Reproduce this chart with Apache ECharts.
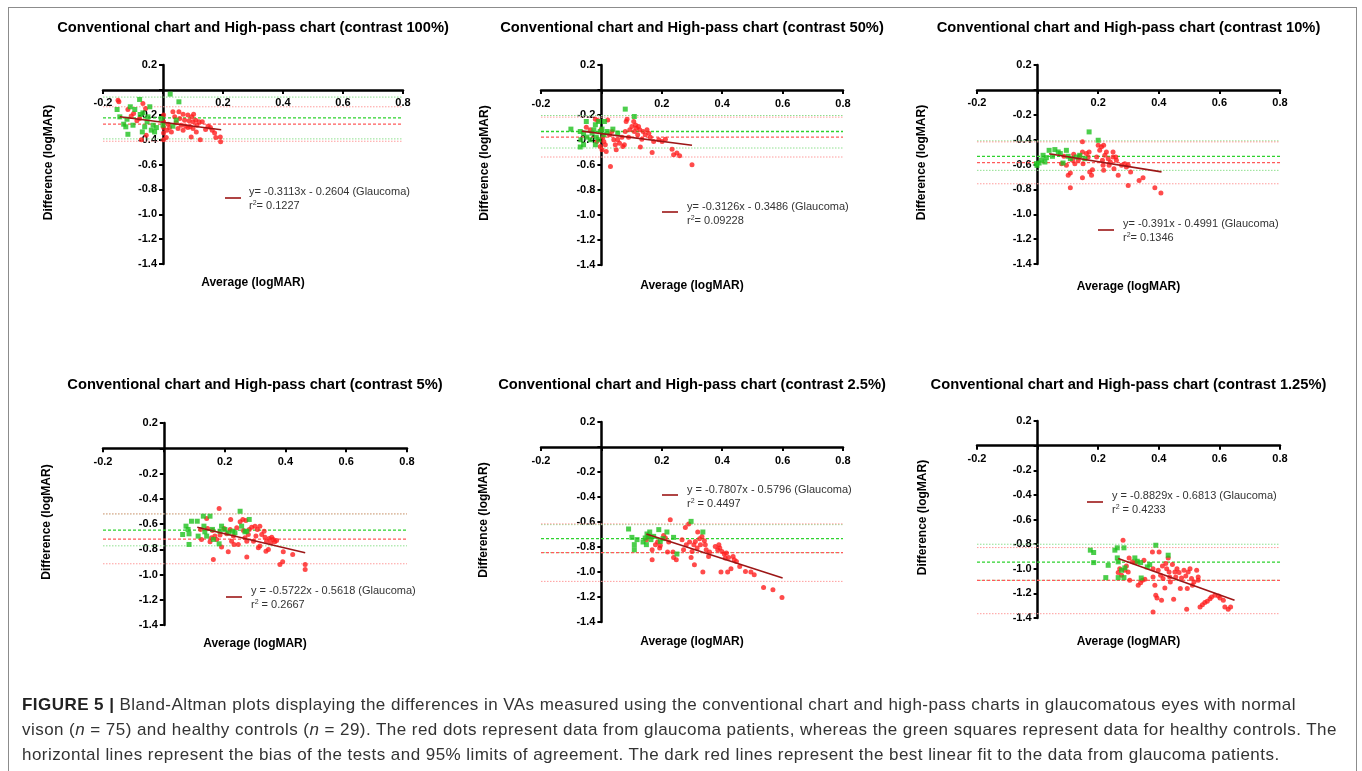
<!DOCTYPE html>
<html>
<head>
<meta charset="utf-8">
<script src="https://cdn.jsdelivr.net/npm/echarts@6/dist/echarts.min.js"></script>
<style>
body { margin: 0; background: #fff; }
#frame { position: absolute; left: 8px; top: 7px; width: 1347px; height: 800px; border: 1px solid #8c8c8c; }
#chart { position: absolute; left: 0; top: 0; width: 1362px; height: 771px; }
#caption { position: absolute; left: 22px; top: 692px; font-family: 'Liberation Sans', Arial, sans-serif;
  font-size: 17px; letter-spacing: 0.45px; line-height: 25px; color: #333; white-space: nowrap; }
#caption b { color: #222; }
</style>
</head>
<body>
<div id="frame"></div>
<div id="chart"></div>
<div id="caption"><b>FIGURE 5 |</b> Bland-Altman plots displaying the differences in VAs measured using the conventional chart and high-pass charts in glaucomatous eyes with normal<br>vison (<i>n</i> = 75) and healthy controls (<i>n</i> = 29). The red dots represent data from glaucoma patients, whereas the green squares represent data for healthy controls. The<br>horizontal lines represent the bias of the tests and 95% limits of agreement. The dark red lines represent the best linear fit to the data from glaucoma patients.</div>
<script>
var panelTitles = [
    'Conventional chart and High-pass chart (contrast 100%)',
    'Conventional chart and High-pass chart (contrast 50%)',
    'Conventional chart and High-pass chart (contrast 10%)',
    'Conventional chart and High-pass chart (contrast 5%)',
    'Conventional chart and High-pass chart (contrast 2.5%)',
    'Conventional chart and High-pass chart (contrast 1.25%)'
];
var eqLabels = [
    'y= -0.3113x - 0.2604 (Glaucoma)',
    'y= -0.3126x - 0.3486 (Glaucoma)',
    'y= -0.391x - 0.4991 (Glaucoma)',
    'y = -0.5722x - 0.5618 (Glaucoma)',
    'y = -0.7807x - 0.5796 (Glaucoma)',
    'y = -0.8829x - 0.6813 (Glaucoma)'
];
var r2Labels = ['= 0.1227', '= 0.09228', '= 0.1346', ' = 0.2667', ' = 0.4497', ' = 0.4233'];
var xName = 'Average (logMAR)';
var yName = 'Difference (logMAR)';
var xMin = -0.2, xMax = 0.8, yMin = -1.4, yMax = 0.2, step = 0.2;

// glaucoma (red dots) and controls (green squares): [average, difference]
var red100 = [[-0.147,-0.096],[-0.117,-0.158],[-0.106,-0.211],[-0.087,-0.249],[-0.098,-0.19],[-0.078,-0.23],[-0.067,-0.109],[-0.058,-0.15],[-0.15,-0.083],[-0.072,-0.4],[-0.056,-0.365],
    [0.002,-0.203],[0.002,-0.257],[0.002,-0.303],[0.002,-0.346],[0.002,-0.4],[0.011,-0.383],[0.013,-0.324],[0.017,-0.276],[0.022,-0.303],
    [0.033,-0.176],[0.039,-0.217],[0.044,-0.265],[0.053,-0.176],[0.056,-0.23],[0.061,-0.284],[0.067,-0.195],[0.072,-0.244],[0.076,-0.292],[0.083,-0.203],[0.087,-0.249],[0.091,-0.297],[0.096,-0.217],[0.1,-0.257],[0.102,-0.195],[0.109,-0.244],[0.113,-0.284],[0.12,-0.257],[0.131,-0.257],[0.094,-0.378],[0.111,-0.338],[0.124,-0.4],[0.142,-0.319],[0.15,-0.292],[0.158,-0.303],[0.164,-0.324],[0.172,-0.346],[0.176,-0.383],[0.191,-0.378],[0.192,-0.418],[0.028,-0.338],[0.05,-0.311],[0.067,-0.324],[0.083,-0.303],[0.1,-0.311]];
var green100 = [[-0.153,-0.158],[-0.144,-0.217],[-0.12,-0.236],[-0.109,-0.136],[-0.094,-0.158],[-0.078,-0.077],[-0.076,-0.198],[-0.067,-0.185],[-0.124,-0.297],[-0.117,-0.357],[-0.069,-0.338],[-0.053,-0.257],[-0.05,-0.217],[-0.044,-0.136],[-0.033,-0.284],[-0.028,-0.338],[-0.039,-0.324],[-0.006,-0.23],[0,-0.284],[0.024,-0.034],[0.053,-0.096],[0.033,-0.292],[0.044,-0.244],[-0.131,-0.276],[-0.061,-0.297],[-0.022,-0.303],[-0.1,-0.284]];

var red50 = [[-0.05,-0.297],[-0.037,-0.318],[-0.02,-0.233],[-0.012,-0.244],[-0.001,-0.318],[0.005,-0.377],[0.008,-0.411],[0.013,-0.438],[0.016,-0.491],[0.021,-0.239],[0.027,-0.358],[0.03,-0.611],[0.035,-0.332],[0.041,-0.398],[0.046,-0.438],[0.049,-0.478],[0.054,-0.398],[0.06,-0.425],[0.068,-0.377],[0.071,-0.451],[0.076,-0.438],[0.079,-0.332],[0.082,-0.252],[0.085,-0.233],[0.09,-0.377],[0.094,-0.318],[0.101,-0.292],[0.107,-0.252],[0.109,-0.332],[0.113,-0.279],[0.116,-0.305],[0.12,-0.358],[0.123,-0.292],[0.127,-0.318],[0.129,-0.456],[0.134,-0.393],[0.138,-0.332],[0.145,-0.358],[0.151,-0.318],[0.157,-0.345],[0.162,-0.377],[0.168,-0.499],[0.173,-0.411],[0.19,-0.398],[0.201,-0.411],[0.212,-0.393],[0.234,-0.473],[0.239,-0.518],[0.25,-0.504],[0.259,-0.526],[0.3,-0.597],[-0.004,-0.451],[0.002,-0.478],[-0.015,-0.411]];
var green50 = [[-0.101,-0.313],[-0.07,-0.332],[-0.068,-0.398],[-0.07,-0.456],[-0.059,-0.438],[-0.05,-0.252],[-0.048,-0.377],[-0.02,-0.278],[-0.017,-0.377],[-0.009,-0.252],[-0.004,-0.332],[0.002,-0.313],[0.008,-0.358],[0.01,-0.252],[0.038,-0.313],[0.054,-0.345],[0.079,-0.153],[0.109,-0.212],[-0.02,-0.438],[-0.031,-0.345],[-0.059,-0.345],[-0.009,-0.398],[0.019,-0.332],[-0.025,-0.318],[-0.037,-0.398]];

var red10 = [[0.079,-0.593],[0.087,-0.534],[0.095,-0.607],[0.101,-0.687],[0.108,-0.668],[0.108,-0.787],[0.115,-0.566],[0.119,-0.518],[0.123,-0.593],[0.134,-0.566],[0.148,-0.418],[0.148,-0.499],[0.15,-0.593],[0.148,-0.706],[0.161,-0.512],[0.167,-0.539],[0.17,-0.499],[0.172,-0.66],[0.178,-0.687],[0.181,-0.642],[0.2,-0.445],[0.205,-0.486],[0.211,-0.458],[0.218,-0.445],[0.214,-0.566],[0.218,-0.647],[0.222,-0.526],[0.227,-0.499],[0.233,-0.553],[0.236,-0.607],[0.24,-0.58],[0.249,-0.499],[0.249,-0.539],[0.252,-0.634],[0.258,-0.539],[0.26,-0.566],[0.266,-0.687],[0.277,-0.607],[0.288,-0.593],[0.293,-0.62],[0.299,-0.607],[0.299,-0.768],[0.307,-0.66],[0.335,-0.728],[0.348,-0.706],[0.387,-0.787],[0.407,-0.83],[0.216,-0.607],[0.195,-0.539],[0.139,-0.534]];
var green10 = [[-0.002,-0.607],[0.005,-0.588],[0.013,-0.566],[0.018,-0.526],[0.029,-0.545],[0.038,-0.486],[0.057,-0.48],[0.068,-0.499],[0.084,-0.588],[0.095,-0.486],[0.101,-0.534],[0.139,-0.526],[0.156,-0.553],[0.17,-0.338],[0.2,-0.405],[-0.004,-0.593],[0.049,-0.534],[0.075,-0.512],[0.108,-0.553],[0.128,-0.54],[0.024,-0.58]];

var red5 = [[0.121,-0.643],[0.124,-0.722],[0.141,-0.556],[0.144,-0.636],[0.152,-0.741],[0.157,-0.709],[0.16,-0.651],[0.163,-0.881],[0.168,-0.696],[0.174,-0.722],[0.182,-0.477],[0.185,-0.688],[0.19,-0.783],[0.198,-0.636],[0.207,-0.678],[0.212,-0.82],[0.218,-0.643],[0.22,-0.564],[0.223,-0.736],[0.229,-0.696],[0.231,-0.762],[0.24,-0.63],[0.245,-0.762],[0.251,-0.583],[0.26,-0.564],[0.262,-0.651],[0.267,-0.709],[0.27,-0.572],[0.273,-0.736],[0.273,-0.862],[0.278,-0.683],[0.281,-0.643],[0.289,-0.625],[0.295,-0.736],[0.3,-0.617],[0.303,-0.696],[0.308,-0.643],[0.311,-0.788],[0.316,-0.775],[0.316,-0.617],[0.322,-0.683],[0.33,-0.657],[0.333,-0.704],[0.336,-0.815],[0.338,-0.736],[0.344,-0.802],[0.347,-0.715],[0.352,-0.749],[0.355,-0.704],[0.36,-0.722],[0.365,-0.741],[0.371,-0.73],[0.382,-0.92],[0.391,-0.899],[0.393,-0.82],[0.424,-0.841],[0.465,-0.92],[0.465,-0.96]];
var green5 = [[0.062,-0.683],[0.073,-0.617],[0.08,-0.643],[0.083,-0.678],[0.083,-0.762],[0.091,-0.578],[0.11,-0.578],[0.113,-0.696],[0.13,-0.538],[0.132,-0.617],[0.135,-0.662],[0.152,-0.538],[0.141,-0.696],[0.16,-0.643],[0.163,-0.722],[0.182,-0.757],[0.19,-0.617],[0.201,-0.643],[0.212,-0.67],[0.226,-0.657],[0.234,-0.67],[0.251,-0.499],[0.256,-0.617],[0.267,-0.662],[0.273,-0.657],[0.281,-0.564],[0.185,-0.657]];

var red25 = [[0.149,-0.741],[0.157,-0.715],[0.168,-0.821],[0.168,-0.901],[0.179,-0.781],[0.186,-0.76],[0.193,-0.808],[0.195,-0.787],[0.206,-0.707],[0.212,-0.728],[0.219,-0.84],[0.223,-0.76],[0.228,-0.581],[0.237,-0.84],[0.239,-0.883],[0.248,-0.901],[0.267,-0.741],[0.272,-0.821],[0.278,-0.643],[0.281,-0.781],[0.289,-0.616],[0.292,-0.76],[0.297,-0.883],[0.3,-0.835],[0.306,-0.781],[0.308,-0.941],[0.311,-0.755],[0.317,-0.808],[0.319,-0.68],[0.325,-0.733],[0.328,-0.781],[0.333,-0.715],[0.336,-1.0],[0.341,-0.749],[0.344,-0.781],[0.347,-0.821],[0.355,-0.875],[0.358,-0.84],[0.377,-0.795],[0.385,-0.821],[0.389,-0.781],[0.392,-0.808],[0.396,-1.0],[0.399,-0.835],[0.407,-0.856],[0.41,-0.888],[0.414,-0.848],[0.418,-1.0],[0.421,-0.883],[0.429,-0.973],[0.436,-0.875],[0.44,-0.901],[0.447,-0.915],[0.458,-0.955],[0.477,-0.995],[0.495,-1.0],[0.506,-1.021],[0.537,-1.123],[0.568,-1.141],[0.598,-1.203]];
var green25 = [[0.09,-0.656],[0.101,-0.723],[0.109,-0.781],[0.109,-0.821],[0.138,-0.76],[0.149,-0.781],[0.151,-0.696],[0.16,-0.68],[0.164,-0.741],[0.19,-0.661],[0.204,-0.733],[0.217,-0.68],[0.239,-0.723],[0.25,-0.856],[0.297,-0.595],[0.336,-0.68],[0.173,-0.715],[0.145,-0.728],[0.195,-0.755],[0.157,-0.715],[0.118,-0.741]];

var red125 = [[0.266,-1.031],[0.271,-0.999],[0.277,-1.053],[0.282,-0.768],[0.288,-1.012],[0.293,-0.977],[0.299,-1.026],[0.302,-0.912],[0.304,-1.094],[0.313,-0.944],[0.324,-0.95],[0.332,-1.134],[0.34,-1.113],[0.346,-1.094],[0.351,-0.931],[0.354,-1.086],[0.379,-0.863],[0.381,-0.999],[0.381,-1.066],[0.387,-1.134],[0.381,-1.351],[0.39,-1.216],[0.394,-1.237],[0.398,-1.012],[0.401,-0.863],[0.406,-1.053],[0.409,-1.256],[0.412,-0.977],[0.414,-1.08],[0.42,-1.156],[0.423,-0.958],[0.426,-0.999],[0.431,-0.912],[0.434,-1.026],[0.436,-1.066],[0.438,-1.107],[0.445,-0.966],[0.449,-1.248],[0.453,-1.026],[0.456,-1.066],[0.46,-0.999],[0.467,-1.031],[0.471,-1.161],[0.475,-1.075],[0.483,-1.012],[0.489,-1.058],[0.492,-1.329],[0.494,-1.161],[0.497,-1.026],[0.503,-0.999],[0.508,-1.08],[0.511,-1.134],[0.516,-1.107],[0.525,-1.012],[0.53,-1.066],[0.53,-1.094],[0.536,-1.311],[0.544,-1.292],[0.552,-1.275],[0.56,-1.264],[0.569,-1.243],[0.574,-1.229],[0.585,-1.216],[0.602,-1.237],[0.613,-1.256],[0.618,-1.311],[0.629,-1.329],[0.637,-1.311],[0.597,-1.221]];
var green125 = [[0.174,-0.849],[0.185,-0.868],[0.185,-0.95],[0.233,-0.972],[0.225,-1.072],[0.255,-0.849],[0.263,-0.83],[0.263,-0.912],[0.266,-0.944],[0.266,-1.072],[0.285,-0.83],[0.285,-1.072],[0.288,-0.993],[0.321,-0.912],[0.329,-0.939],[0.34,-0.95],[0.342,-1.075],[0.362,-0.985],[0.37,-0.966],[0.39,-0.809],[0.431,-0.89],[0.277,-1.012]];

// bias and 95% limits of agreement
var greenBias = [-0.225, -0.332, -0.534, -0.649, -0.733, -0.947];
var greenLoaHi = [-0.058, -0.204, -0.41, -0.52, -0.621, -0.801];
var greenLoaLo = [-0.394, -0.464, -0.647, -0.773, -0.845, -1.094];
var redBias = [-0.276, -0.377, -0.585, -0.72, -0.845, -1.094];
var redLoaHi = [-0.136, -0.217, -0.418, -0.52, -0.615, -0.828];
var redLoaLo = [-0.413, -0.536, -0.755, -0.915, -1.075, -1.365];

// best fit lines: x1, y1, x2, y2
var fitLines = [
    [-0.144, -0.216, 0.194, -0.321],
    [-0.064, -0.329, 0.3, -0.442],
    [0.038, -0.514, 0.409, -0.659],
    [0.11, -0.625, 0.465, -0.828],
    [0.149, -0.696, 0.6, -1.048],
    [0.266, -0.916, 0.65, -1.255]
];

var redSets = [red100, red50, red10, red5, red25, red125];
var greenSets = [green100, green50, green10, green5, green25, green125];

// layout (pixels)
var grids = [[103,65,300,199],[541,65,302,200],[977,65,303,199],[103,423,304,202],[541,422,302,200],[977,421,303,197]];
var legendPos = [[225,198,249,192],[662,212,687,207],[1098,230,1123,224],[226,597,251,591],[662,495,687,490],[1087,502,1112,496]];
var titleY = [28, 28, 28, 385, 385, 385];
var xNameY = [283, 286, 287, 644, 642, 642];
var yNameX = [49, 485, 922, 47, 484, 923];

var font = "'Liberation Sans', Arial, sans-serif";
var myChart = echarts.init(document.getElementById('chart'));

function fmt(v) {
    return Math.abs(v) < 1e-6 ? '' : v.toFixed(1);
}
function hline(i, v, color, dash, w) {
    return {
        type: 'line', xAxisIndex: i, yAxisIndex: i, silent: true, z: 2,
        data: [[xMin, v], [xMax, v]], symbol: 'none',
        lineStyle: { color: color, width: w, type: dash }
    };
}

var option = { animation: false, grid: [], xAxis: [], yAxis: [], series: [], graphic: [] };

for (var i = 0; i < 6; i++) {
    var g = grids[i];
    // axes cross at zero: shift them from the grid edge to the zero position
    var xOff = -g[3] * (0 - yMin) / (yMax - yMin);
    var yOff = -g[2] * (0 - xMin) / (xMax - xMin);
    option.grid.push({ left: g[0], top: g[1], width: g[2], height: g[3], containLabel: false, outerBoundsMode: 'none' });
    option.xAxis.push({
        type: 'value', gridIndex: i, min: xMin, max: xMax, interval: step,
        position: 'bottom', offset: xOff,
        axisLine: { onZero: false, lineStyle: { color: '#000', width: 2.5 } },
        axisTick: { length: 4, lineStyle: { color: '#000', width: 2 } },
        axisLabel: { formatter: fmt, color: '#000', fontWeight: 'bold', fontSize: 11, fontFamily: font, margin: 8 },
        splitLine: { show: false }
    });
    option.yAxis.push({
        type: 'value', gridIndex: i, min: yMin, max: yMax, interval: step,
        position: 'left', offset: yOff,
        axisLine: { onZero: false, lineStyle: { color: '#000', width: 2.5 } },
        axisTick: { length: 4, lineStyle: { color: '#000', width: 2 } },
        axisLabel: { formatter: fmt, color: '#000', fontWeight: 'bold', fontSize: 11, fontFamily: font, margin: 6 },
        splitLine: { show: false }
    });

    option.series.push(hline(i, greenLoaHi[i], '#8fe08f', [1.5, 1.5], 1));
    option.series.push(hline(i, greenLoaLo[i], '#8fe08f', [1.5, 1.5], 1));
    option.series.push(hline(i, redLoaHi[i], '#ff9c9c', [1.5, 1.5], 1));
    option.series.push(hline(i, redLoaLo[i], '#ff9c9c', [1.5, 1.5], 1));
    option.series.push(hline(i, greenBias[i], '#2ed22e', [3, 2], 1.3));
    option.series.push(hline(i, redBias[i], '#ff5a5a', [3, 2], 1.3));

    option.series.push({
        type: 'scatter', xAxisIndex: i, yAxisIndex: i, silent: true, z: 3,
        data: redSets[i], symbol: 'circle', symbolSize: 5,
        itemStyle: { color: '#ff1e1e' }
    });
    option.series.push({
        type: 'scatter', xAxisIndex: i, yAxisIndex: i, silent: true, z: 3,
        data: greenSets[i], symbol: 'rect', symbolSize: 5,
        itemStyle: { color: '#1fc21f' }
    });
    var f = fitLines[i];
    option.series.push({
        type: 'line', xAxisIndex: i, yAxisIndex: i, silent: true, z: 4,
        data: [[f[0], f[1]], [f[2], f[3]]], symbol: 'none',
        lineStyle: { color: '#9c1616', width: 1.6 }
    });

    // titles and axis names
    option.graphic.push({
        type: 'text', x: g[0] + g[2] / 2, y: titleY[i], silent: true,
        style: { text: panelTitles[i], fontSize: 14.7, fontWeight: 'bold', fontFamily: font, fill: '#000', align: 'center', verticalAlign: 'middle' }
    });
    option.graphic.push({
        type: 'text', x: g[0] + g[2] / 2, y: xNameY[i], silent: true,
        style: { text: xName, fontSize: 12, fontWeight: 'bold', fontFamily: font, fill: '#000', align: 'center', verticalAlign: 'middle' }
    });
    option.graphic.push({
        type: 'text', x: yNameX[i], y: g[1] + g[3] / 2 - 2, rotation: Math.PI / 2, silent: true,
        style: { text: yName, fontSize: 12, fontWeight: 'bold', fontFamily: font, fill: '#000', align: 'center', verticalAlign: 'middle' }
    });

    // legend
    var lp = legendPos[i];
    option.graphic.push({
        type: 'line', silent: true,
        shape: { x1: lp[0], y1: lp[1], x2: lp[0] + 16, y2: lp[1] },
        style: { stroke: '#9c1616', lineWidth: 1.6 }
    });
    option.graphic.push({
        type: 'text', x: lp[2], y: lp[3], silent: true,
        style: { text: eqLabels[i], fontSize: 11, fontFamily: font, fill: '#333', verticalAlign: 'middle' }
    });
    option.graphic.push({
        type: 'text', x: lp[2], y: lp[3] + 14, silent: true,
        style: {
            text: '{a|r}{s|2}{a|' + r2Labels[i] + '}', verticalAlign: 'middle',
            rich: {
                a: { fontSize: 11, fontFamily: font, fill: '#333', color: '#333', lineHeight: 13 },
                s: { fontSize: 7, fontFamily: font, fill: '#333', color: '#333', lineHeight: 8, verticalAlign: 'top' }
            }
        }
    });
}

myChart.setOption(option);
window.onresize = myChart.resize;
</script>
</body>
</html>
